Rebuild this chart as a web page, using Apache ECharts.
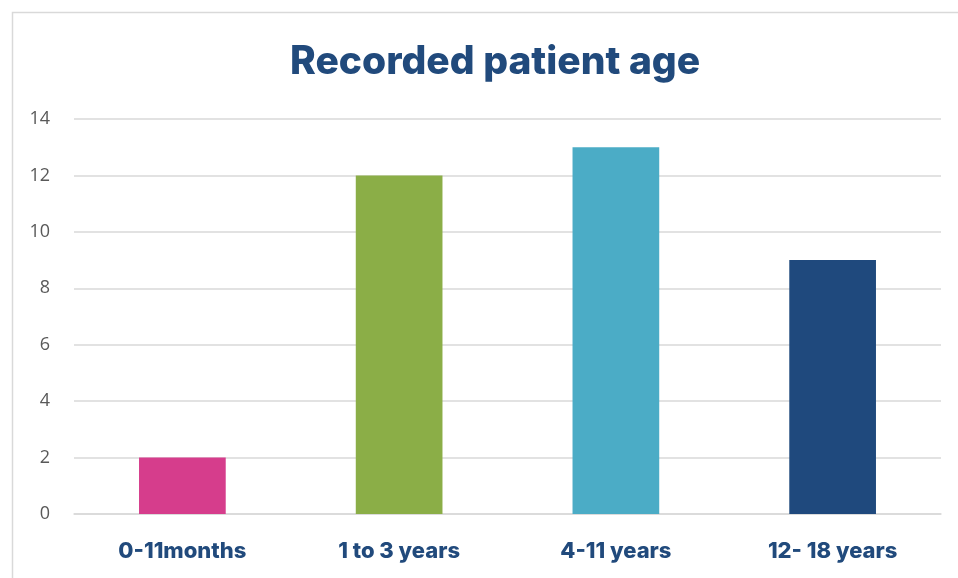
<!DOCTYPE html>
<html>
<head>
<meta charset="utf-8">
<script src="https://cdn.jsdelivr.net/npm/echarts@6/dist/echarts.min.js"></script>
<style>html,body{margin:0;padding:0;background:#fff}#c{width:958px;height:578px}</style>
</head>
<body>
<div id="c"></div>
<script>
const categories = ['0-11months', '1 to 3 years', '4-11 years', '12- 18 years'];
const values = [2, 12, 13, 9];
const barColors = ['#D63D8C', '#8BAE47', '#4BACC6', '#1F497D'];
const yTicks = [0, 2, 4, 6, 8, 10, 12, 14];

const chart = echarts.init(document.getElementById('c'), null, {renderer: 'canvas'});
chart.setOption({
  animation: false,
  graphic: [{
    type: 'rect', left: 10, top: 10,
    shape: {x: 0, y: 0, width: 1000, height: 1000},
    style: {fill: 'none', stroke: '#d9d9d9', lineWidth: 1.5}
  }],
  title: {
    text: 'Recorded patient age',
    left: 285, top: 38,
    textStyle: {fontFamily: 'Inter', fontWeight: 800, fontSize: 39, color: '#214A7C'}
  },
  grid: {left: 74, right: 17, top: 119, bottom: 64},
  xAxis: {
    type: 'category', data: categories,
    axisLine: {lineStyle: {color: '#d9d9d9', width: 1.5}},
    axisTick: {show: false},
    axisLabel: {margin: 26, fontFamily: 'Inter', fontWeight: 800, fontSize: 22, color: '#214A7C'}
  },
  yAxis: {
    type: 'value', min: yTicks[0], max: yTicks[yTicks.length - 1], interval: 2,
    axisLine: {show: false}, axisTick: {show: false},
    axisLabel: {margin: 24, fontFamily: 'Open Sans', fontSize: 18, color: '#595959'},
    splitLine: {lineStyle: {color: '#d9d9d9', width: 1.5}}
  },
  series: [{
    type: 'bar', barWidth: '40%',
    data: values.map((v, i) => ({value: v, itemStyle: {color: barColors[i]}}))
  }]
});
</script>
</body>
</html>
